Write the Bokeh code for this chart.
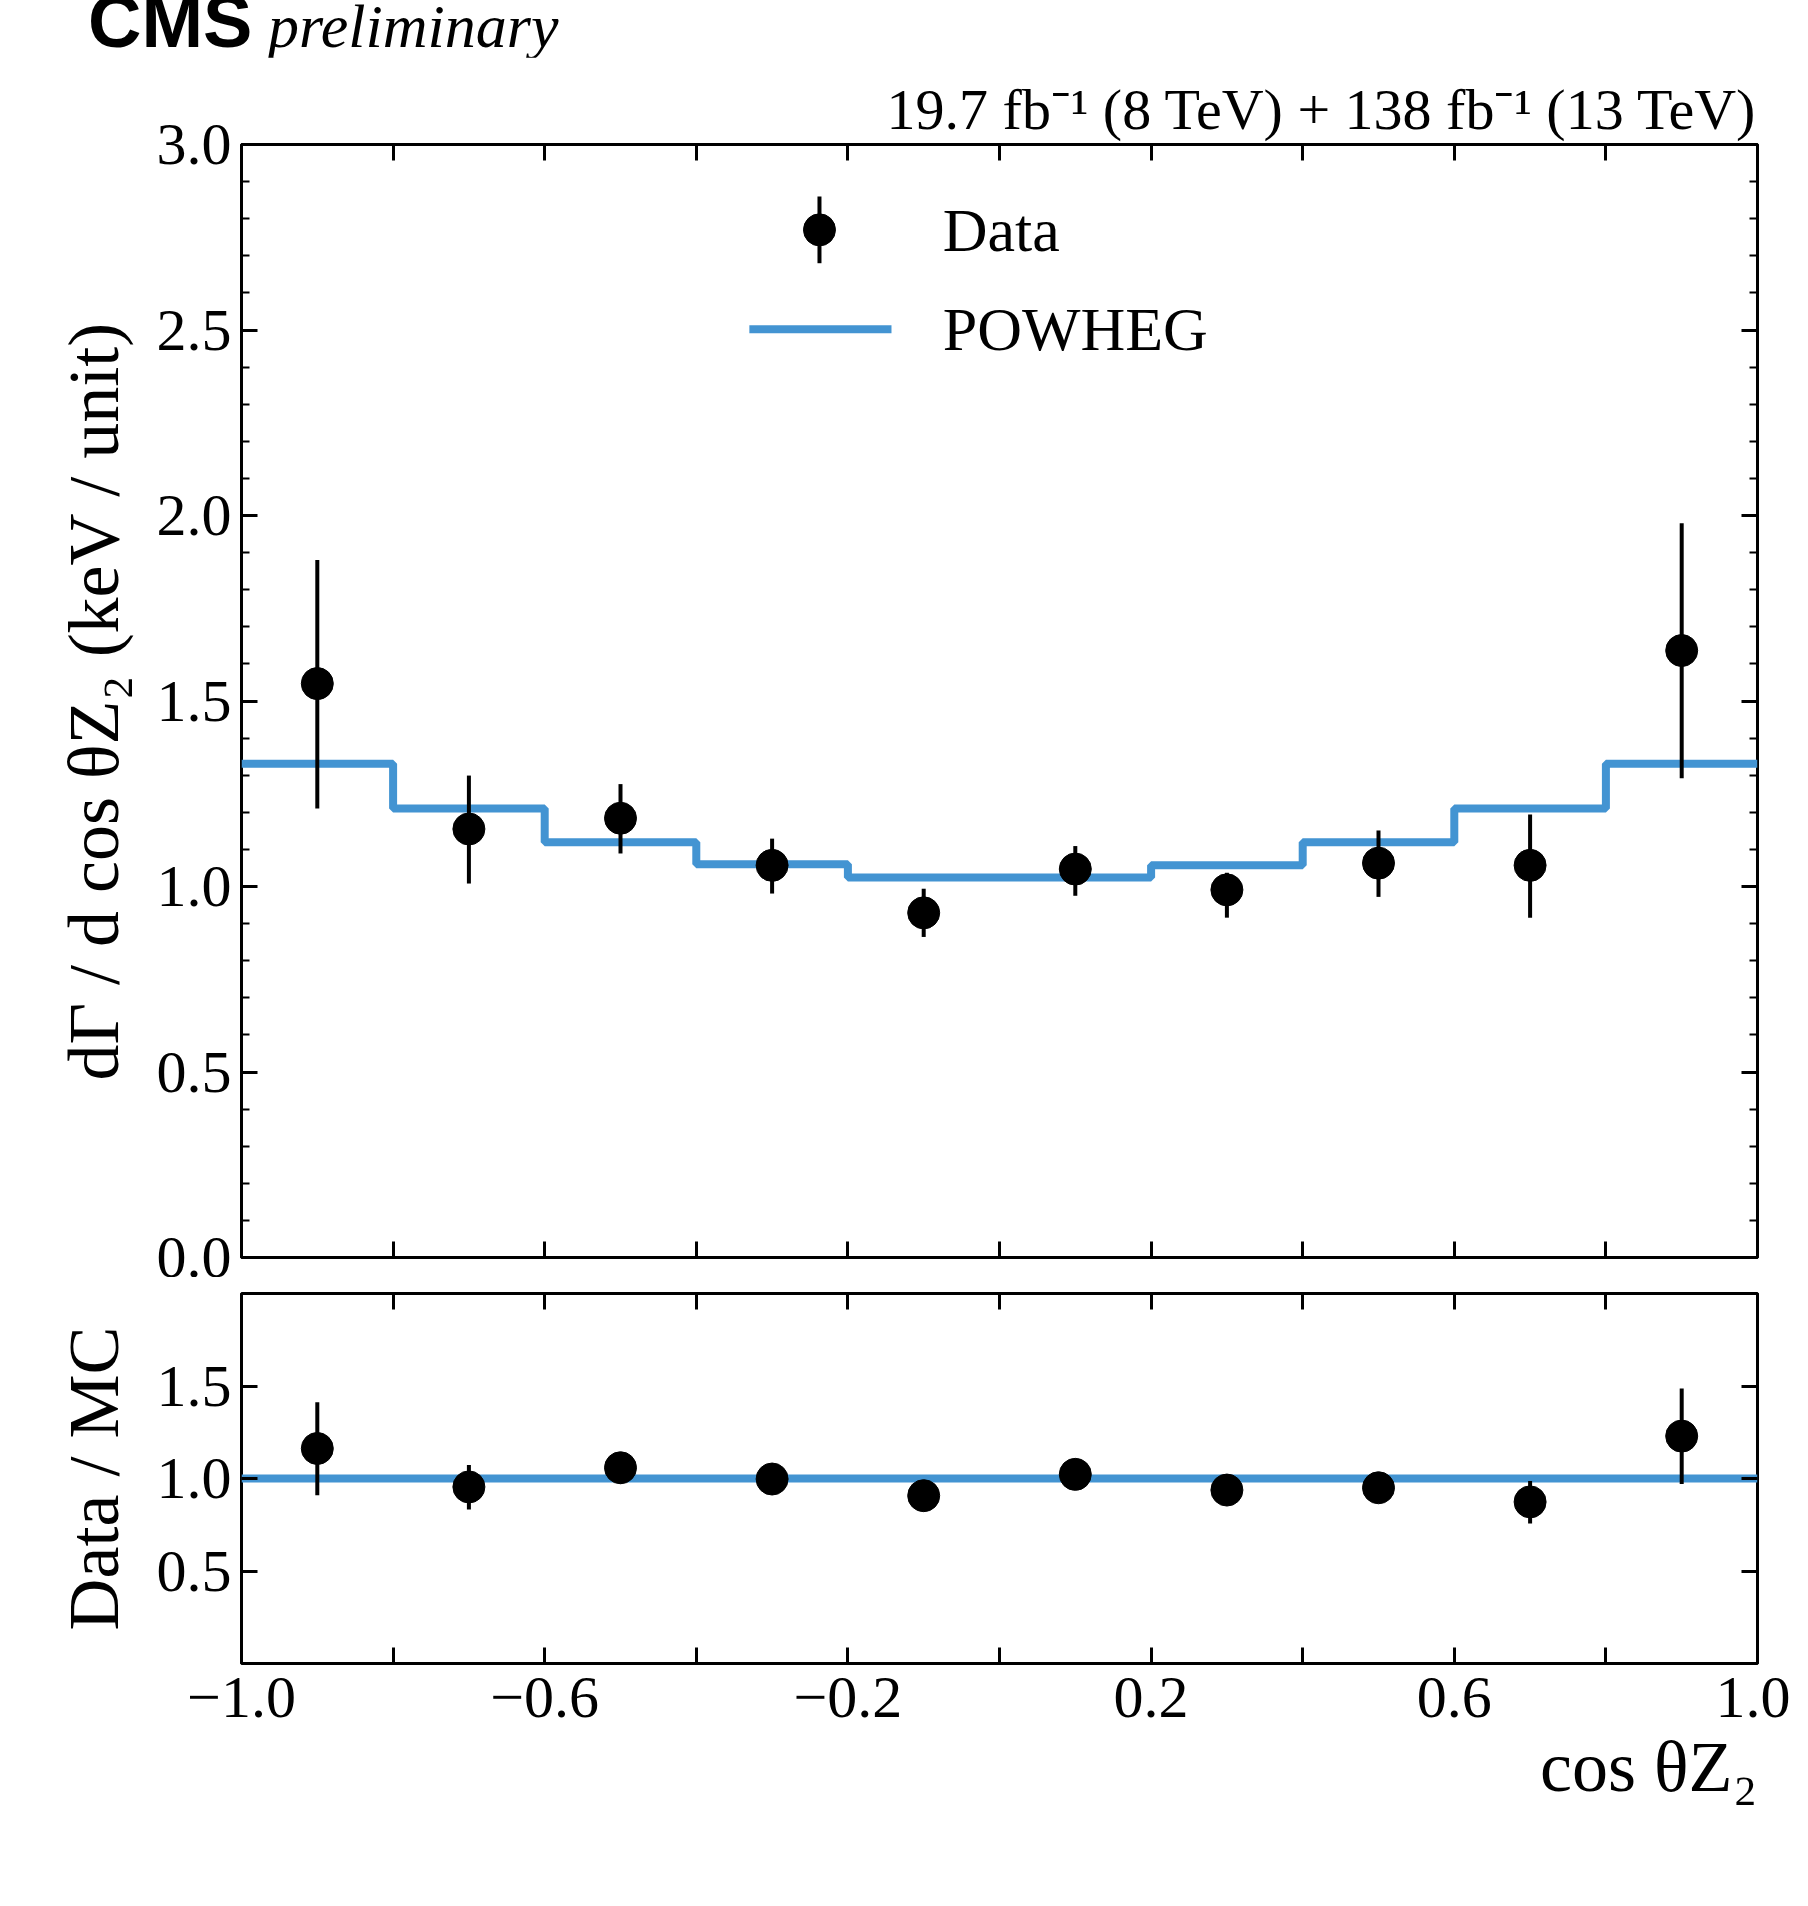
from bokeh.plotting import figure
from bokeh.layouts import column
from bokeh.models import LinearAxis, Title, FixedTicker, Range1d, Div, Label
from bokeh.embed import file_html
from bokeh.resources import INLINE

edges = [-1.0, -0.8, -0.6, -0.4, -0.2, 0.0, 0.2, 0.4, 0.6, 0.8, 1.0]
powheg = [1.331, 1.21, 1.119, 1.06, 1.024, 1.024, 1.057, 1.119, 1.21, 1.331]
data = [1.547, 1.155, 1.184, 1.057, 0.929, 1.047, 0.991, 1.063, 1.057, 1.636]
err_hi = [1.88, 1.299, 1.276, 1.129, 0.994, 1.109, 1.037, 1.151, 1.194, 1.979]
err_lo = [1.21, 1.008, 1.089, 0.981, 0.864, 0.975, 0.916, 0.972, 0.916, 1.292]
xticks = [-1.0, -0.6, -0.2, 0.2, 0.6, 1.0]
xminor = [-0.8, -0.4, 0.0, 0.4, 0.8]

centers = [(edges[i] + edges[i + 1]) / 2 for i in range(len(powheg))]
ratio = [d / m for d, m in zip(data, powheg)]
r_hi = [h / m for h, m in zip(err_hi, powheg)]
r_lo = [l / m for l, m in zip(err_lo, powheg)]

BLUE = "#4394d2"
FONT = "Liberation Serif"
TICK = "60px"

def fmt(t):
    return ("\u2212" if t < 0 else "") + "%.1f" % abs(t)

def style(p, ymaj, yminor, xlabels):
    p.outline_line_color = "black"
    p.outline_line_width = 3
    p.grid.visible = False
    ax_top = LinearAxis(); ax_right = LinearAxis()
    p.add_layout(ax_top, "above"); p.add_layout(ax_right, "right")
    for ax in p.xaxis + p.yaxis:
        ax.axis_line_color = None
        ax.major_tick_in = 16; ax.major_tick_out = 0
        ax.minor_tick_in = 8; ax.minor_tick_out = 0
        ax.major_tick_line_width = 3; ax.minor_tick_line_width = 2
        ax.major_label_text_font = FONT
        ax.major_label_text_font_size = TICK
        ax.major_label_text_color = "black"
    for ax in p.xaxis:
        ax.ticker = FixedTicker(ticks=xticks, minor_ticks=xminor)
        ax.minor_tick_in = 16; ax.minor_tick_line_width = 3
        ax.major_label_overrides = {t: fmt(t) for t in xticks}
    for ax in p.yaxis:
        ax.ticker = FixedTicker(ticks=ymaj, minor_ticks=yminor)
        ax.major_label_overrides = {t: fmt(t) for t in ymaj}
    hidden = [ax_top, ax_right]
    if not xlabels:
        hidden.append(p.below[0])
    else:
        p.below[0].major_label_standoff = 14
    for ax in hidden:
        ax.major_label_overrides = {t: "" for t in (xticks if ax in p.xaxis else ymaj)}
        ax.major_label_standoff = 0
    p.left[0].major_label_standoff = 10

W = 1790
header = Div(text='<span style="font-family:\'Liberation Sans\';font-weight:bold;font-size:74px;color:black">CMS</span>'
                  '<span style="font-family:\'Liberation Serif\';font-style:italic;font-size:62px;color:black">&nbsp;preliminary</span>',
             width=800, height=60, styles={"margin-left": "88px", "line-height": "60px", "margin-top": "-8px"})

p = figure(width=W, height=1220, x_range=Range1d(-1, 1), y_range=Range1d(0, 3),
           output_backend="svg", toolbar_location=None,
           min_border_left=241, min_border_right=33, min_border_top=87, min_border_bottom=20)
style(p, [0.0, 0.5, 1.0, 1.5, 2.0, 2.5, 3.0], [round(0.1 * i, 1) for i in range(31)], False)

xs = []; ys = []
for i, v in enumerate(powheg):
    xs += [edges[i], edges[i + 1]]; ys += [v, v]
p.line(xs, ys, line_color=BLUE, line_width=8)
p.segment(x0=centers, y0=err_lo, x1=centers, y1=err_hi, line_color="black", line_width=4)
p.scatter(centers, data, size=32, color="black")

p.segment(x0=[-0.2375], y0=[2.68], x1=[-0.2375], y1=[2.86], line_color="black", line_width=4)
p.scatter([-0.2375], [2.77], size=32, color="black")
p.line([-0.33, -0.1425], [2.502, 2.502], line_color=BLUE, line_width=8)
for t, y in [("Data", 2.77), ("POWHEG", 2.502)]:
    p.add_layout(Label(x=-0.075, y=y, text=t, text_font=FONT, text_font_size="62px",
                       text_baseline="middle", text_color="black"))

p.add_layout(Title(text="19.7 fb\u207b\u00b9 (8 TeV) + 138 fb\u207b\u00b9 (13 TeV)", align="right",
                   text_font=FONT, text_font_size="58px", text_font_style="normal",
                   text_color="black", standoff=6), "above")

p.left[0].axis_label = "dΓ / d cos θZ\u2082 (keV / unit)"
p.left[0].axis_label_text_font = FONT
p.left[0].axis_label_text_font_size = "72px"
p.left[0].axis_label_text_font_style = "normal"
p.left[0].axis_label_text_color = "black"
p.left[0].axis_label_standoff = 20

r = figure(width=W, height=586, x_range=p.x_range, y_range=Range1d(0, 2),
           output_backend="svg", toolbar_location=None,
           min_border_left=241, min_border_right=33, min_border_top=16, min_border_bottom=200)
style(r, [0.5, 1.0, 1.5], [], True)
r.line([-1, 1], [1, 1], line_color=BLUE, line_width=8)
r.segment(x0=centers, y0=r_lo, x1=centers, y1=r_hi, line_color="black", line_width=4)
r.scatter(centers, ratio, size=32, color="black")
r.left[0].axis_label = "Data / MC"
r.left[0].axis_label_text_font = FONT
r.left[0].axis_label_text_font_size = "72px"
r.left[0].axis_label_text_font_style = "normal"
r.left[0].axis_label_text_color = "black"
r.left[0].axis_label_standoff = 20
r.add_layout(Title(text="cos θZ\u2082", align="right", text_font=FONT,
                   text_font_size="72px", text_font_style="normal", text_color="black"), "below")

layout = column(header, p, r, spacing=0)
open("out.html", "w").write(file_html(layout, INLINE))
